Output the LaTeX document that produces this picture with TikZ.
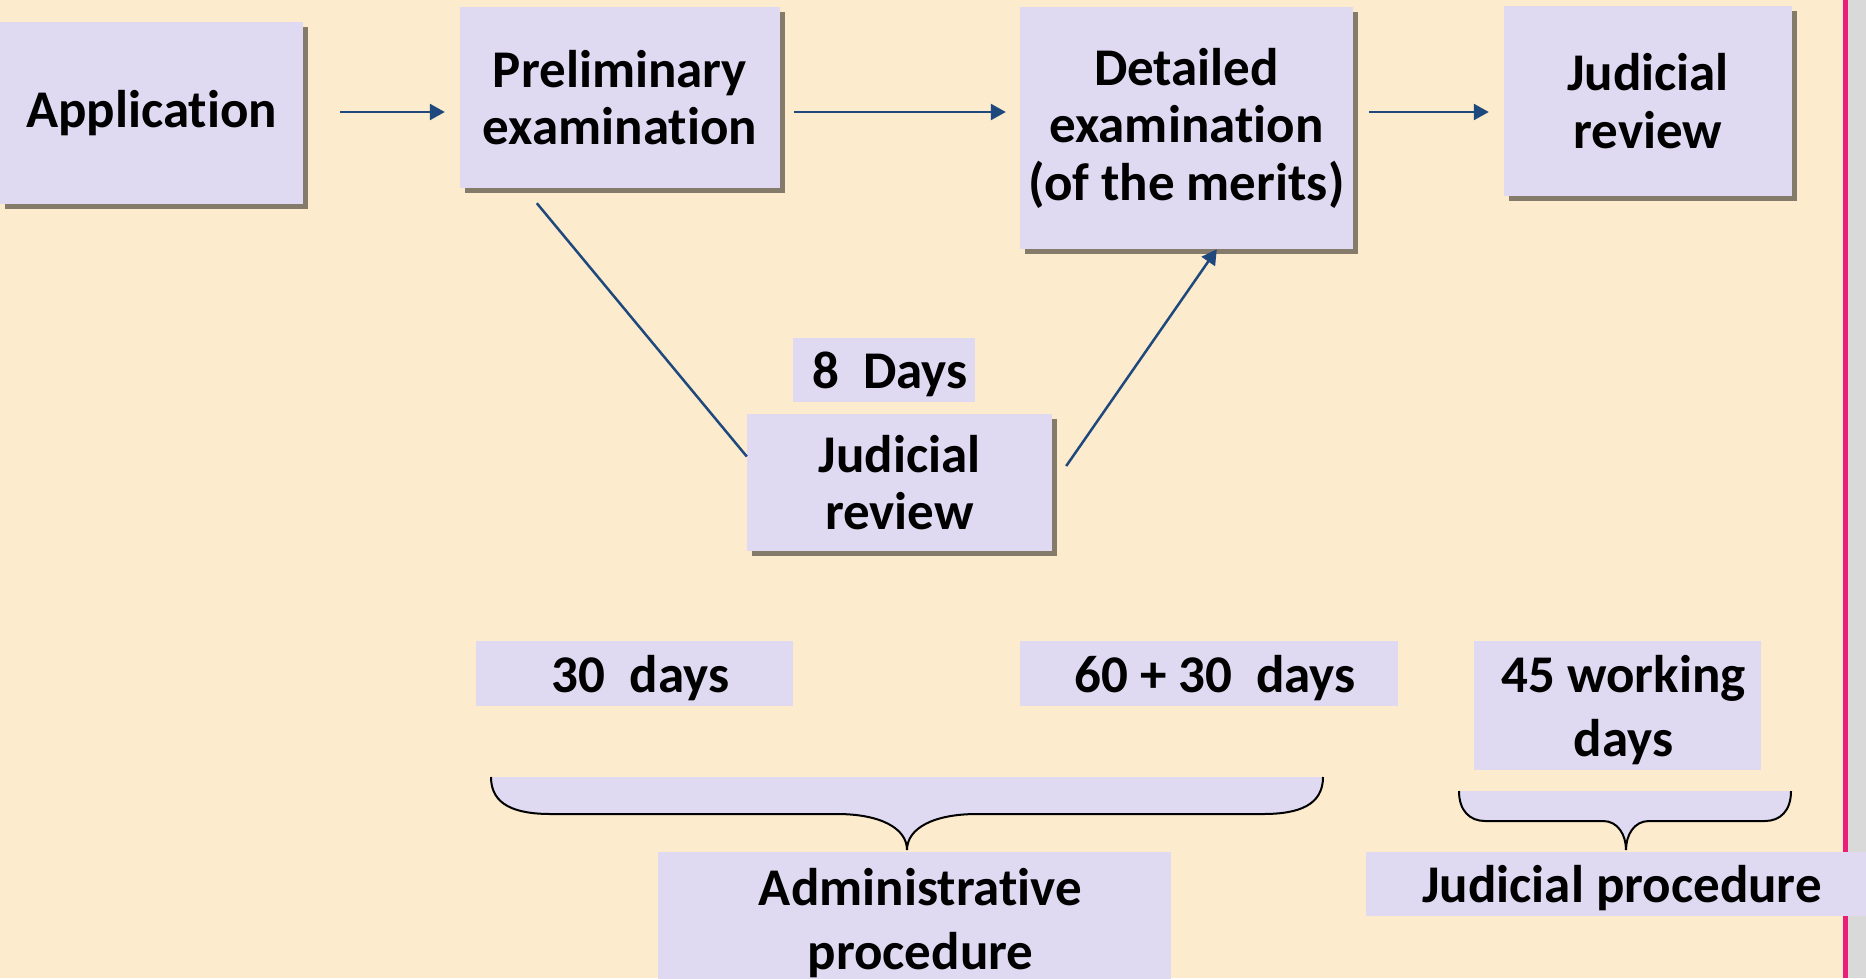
\documentclass[tikz,border=0pt]{standalone}
\usepackage{fontspec}
\setmainfont{Carlito}[Ligatures=CommonOff]
\usetikzlibrary{arrows.meta,shadows,calc}
\definecolor{cream}{RGB}{252,235,205}
\definecolor{lav}{RGB}{223,218,242}
\definecolor{shadowbrown}{RGB}{133,123,107}
\definecolor{arrowblue}{RGB}{31,73,125}
\definecolor{pinkline}{RGB}{233,30,120}
\definecolor{sidegray}{RGB}{217,217,217}
\newcommand{\tallstrut}{\rule{0pt}{46pt}}
\tikzset{
  stage/.style     = {shape=rectangle, fill=lav, align=center, inner sep=0pt,
                      font=\fontsize{53}{57.5}\selectfont\bfseries,
                      drop shadow={shadow xshift=5pt, shadow yshift=-5pt,
                      fill=shadowbrown, opacity=1}},
  label box/.style = {shape=rectangle, fill=lav, align=center, inner sep=0pt,
                      font=\fontsize{53}{63.5}\selectfont\bfseries},
  flow/.style      = {draw=arrowblue, line width=2.5pt, -{Triangle[length=15pt,width=16pt]}},
  link/.style      = {draw=arrowblue, line width=2.5pt},
  brace/.style     = {draw=black, line width=2pt}
}
\begin{document}
\begin{tikzpicture}
  [
    x = 1pt,
    y = -1pt
  ]
  \useasboundingbox (0,0) rectangle (1866,978);
  \clip (0,0) rectangle (1866,978);
  \fill[cream] (0,0) rectangle (1866,978);
  \fill[pinkline] (1843,0) rectangle (1848,978);
  \fill[sidegray] (1848,0) rectangle (1866,978);

  % the stages
  \node [stage, minimum width=303pt, minimum height=182pt] (app)    at (151.5,113)  {Application};
  \node [stage, minimum width=320pt, minimum height=181pt] (prelim) at (620,97.5)   {Preliminary\\examination};
  \node [stage, minimum width=333pt, minimum height=242pt] (det)    at (1186.5,128) {Detailed\\examination\\(of the merits)};
  \node [stage, minimum width=288pt, minimum height=190pt] (jud)    at (1648,101)   {Judicial\\review};
  \node [stage, minimum width=305pt, minimum height=137pt] (review) at (899.5,482.5) {Judicial\\review};

  % the time limits
  \node [label box, minimum width=182pt, minimum height=64pt]  (eight)     at (884,370)     {\tallstrut~8~~Days};
  \node [label box, minimum width=317pt, minimum height=65pt]  (thirty)    at (634.5,673.5) {\tallstrut~30~~days};
  \node [label box, minimum width=378pt, minimum height=65pt]  (sixty)     at (1209,673.5)  {\tallstrut~60 + 30~~days};
  \node [label box, minimum width=287pt, minimum height=129pt] (fortyfive) at (1617.5,705.5) {\tallstrut~45 working\\~days};
  \node [label box, minimum width=513pt, minimum height=133pt] (admin)     at (914.5,918.5) {\tallstrut~Administrative\\~procedure};
  \node [label box, minimum width=500pt, minimum height=64pt]  (judproc)   at (1616,884)    {\tallstrut~Judicial procedure};

  % connectors
  \draw [flow] ($(app.east)+(37,-1)$) -- ($(app.east -| prelim.west)+(-15,-1)$);
  \draw [flow] ($(prelim.east |- app.east)+(14,-1)$) -- ($(det.west |- app.east)+(-14,-1)$);
  \draw [flow] ($(det.east |- app.east)+(16,-1)$) -- ($(jud.west |- app.east)+(-15,-1)$);
  \draw [link] ($(prelim.south west)+(77,15)$) -- ($(review.west)+(0,-26)$);
  \draw [flow] ($(review.east)+(14,-16.5)$) -- ($(det.south west)+(197,0)$);

  % braces
  \fill [lav] (491,777) .. controls (491,805) and (515,814) .. (551,814) -- (837,814)
    .. controls (880,814) and (907,828) .. (907,850)
    .. controls (907,828) and (934,814) .. (977,814) -- (1263,814)
    .. controls (1299,814) and (1323,805) .. (1323,777) -- cycle;
  \draw [brace] (491,777) .. controls (491,805) and (515,814) .. (551,814) -- (837,814)
    .. controls (880,814) and (907,828) .. (907,850)
    .. controls (907,828) and (934,814) .. (977,814) -- (1263,814)
    .. controls (1299,814) and (1323,805) .. (1323,777);
  \fill [lav] (1459,791) .. controls (1459,811) and (1470,821) .. (1485,821) -- (1603,821)
    .. controls (1618,821) and (1626,835) .. (1626,850)
    .. controls (1626,835) and (1634,821) .. (1649,821) -- (1765,821)
    .. controls (1780,821) and (1791,811) .. (1791,791) -- cycle;
  \draw [brace] (1459,791) .. controls (1459,811) and (1470,821) .. (1485,821) -- (1603,821)
    .. controls (1618,821) and (1626,835) .. (1626,850)
    .. controls (1626,835) and (1634,821) .. (1649,821) -- (1765,821)
    .. controls (1780,821) and (1791,811) .. (1791,791);
\end{tikzpicture}
\end{document}
